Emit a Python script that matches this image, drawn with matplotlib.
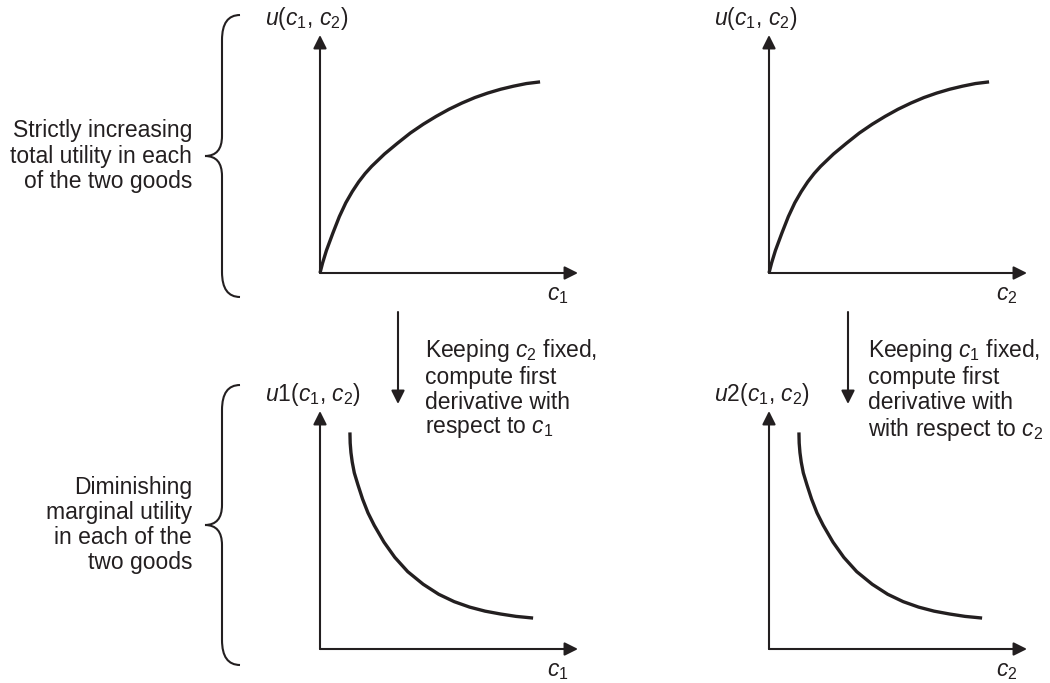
import numpy as np
import matplotlib
matplotlib.use("Agg")
from matplotlib import pyplot as plt
from matplotlib.path import Path
from matplotlib.patches import PathPatch

plt.rcParams['font.family'] = ['Liberation Sans', 'DejaVu Sans']
plt.rcParams['mathtext.fontset'] = 'custom'
plt.rcParams['mathtext.rm'] = 'Liberation Sans'
plt.rcParams['mathtext.it'] = 'Liberation Sans:italic'

INK = '#231f20'

# total utility curve (panel units 0..10)
total_c = [0, 0.1, 0.25, 0.5, 0.75, 1.0, 1.25, 1.5, 1.75, 2.0, 2.5, 3.0, 3.5,
           4.0, 4.5, 5.0, 5.5, 6.0, 6.5, 7.0, 7.5, 8.0, 8.53]
total_u = [0, 0.42, 0.95, 1.68, 2.37, 2.95, 3.42, 3.83, 4.18, 4.48, 5.0, 5.45, 5.88,
           6.25, 6.58, 6.88, 7.14, 7.37, 7.56, 7.72, 7.85, 7.96, 8.03]

# marginal utility curve
marg_c = [1.16, 1.17, 1.2, 1.25, 1.33, 1.47, 1.65, 1.86, 2.1, 2.48, 2.9, 3.4,
          4.0, 4.6, 5.2, 5.8, 6.4, 7.0, 7.6, 8.26]
marg_u = [9.1, 8.65, 8.25, 7.85, 7.4, 6.9, 6.3, 5.72, 5.2, 4.49, 3.85, 3.25,
          2.72, 2.3, 1.99, 1.76, 1.59, 1.47, 1.37, 1.30]

y_labels = [r'$u(c_1$, $c_2)$', r'$u(c_1$, $c_2)$', r'$u$1$(c_1$, $c_2)$', r'$u$2$(c_1$, $c_2)$']
x_labels = [r'$c_1$', r'$c_2$', r'$c_1$', r'$c_2$']
side_notes = ['Strictly increasing\ntotal utility in each\nof the two goods',
              'Diminishing\nmarginal utility\nin each of the\ntwo goods']
step_notes = ['Keeping $c_2$ fixed,\ncompute first\nderivative with\nrespect to $c_1$',
              'Keeping $c_1$ fixed,\ncompute first\nderivative with\nwith respect to $c_2$']

W, H = 1050, 683
FS = 16.5
fig = plt.figure(figsize=(W / 100, H / 100), dpi=100)

# overlay in pixel coords for braces, arrows and notes
ov = fig.add_axes([0, 0, 1, 1])
ov.set_xlim(0, W)
ov.set_ylim(H, 0)
ov.axis('off')

# (origin x, origin y) of each panel in pixels
origins = [(320, 273), (769, 273), (320, 649), (769, 649)]
pw, ph = 258, 238

for i, (ox, oy) in enumerate(origins):
    ax = fig.add_axes([ox / W, (H - oy) / H, pw / W, ph / H])
    ax.set_xlim(0, 10)
    ax.set_ylim(0, 10)
    ax.axis('off')
    for end in [(10, 0), (0, 10)]:
        ax.annotate('', xy=end, xytext=(0, 0), annotation_clip=False,
                    arrowprops=dict(arrowstyle='-|>', color=INK, lw=1.5,
                                    mutation_scale=20, shrinkA=0, shrinkB=0))
    if i < 2:
        cx, cy = total_c, total_u
    else:
        cx, cy = marg_c, marg_u
    ax.plot(cx, cy, color=INK, lw=2.4, solid_capstyle='butt',
            solid_joinstyle='round', clip_on=False)
    ov.text(ox - 55, oy - 254, y_labels[i], fontsize=FS, color=INK, ha='left', va='center')
    ov.text(ox + 238, oy + 22, x_labels[i], fontsize=FS, color=INK, ha='center', va='center')


def brace(y_top, y_bot, x_tip=205, x_mid=222, x_end=240):
    ym = (y_top + y_bot) / 2
    verts = [(x_end, y_top), (x_mid, y_top), (x_mid, y_top + 25),
             (x_mid, ym - 20), (x_mid, ym), (x_tip, ym),
             (x_mid, ym), (x_mid, ym + 20),
             (x_mid, y_bot - 25), (x_mid, y_bot), (x_end, y_bot)]
    codes = [Path.MOVETO, Path.CURVE3, Path.CURVE3,
             Path.LINETO, Path.CURVE3, Path.CURVE3,
             Path.CURVE3, Path.CURVE3,
             Path.LINETO, Path.CURVE3, Path.CURVE3]
    ov.add_patch(PathPatch(Path(verts, codes), fill=False, ec=INK, lw=1.5))
    return ym


for (yt, yb), note in zip([(15, 297), (385, 665)], side_notes):
    ym = brace(yt, yb)
    ov.text(192, ym, note, fontsize=FS, color=INK, ha='right', va='center',
            multialignment='right', linespacing=1.12)

for ax_x, tx, note in zip([398, 848], [425, 868], step_notes):
    ov.annotate('', xy=(ax_x, 404), xytext=(ax_x, 312),
                arrowprops=dict(arrowstyle='-|>', color=INK, lw=1.5,
                                mutation_scale=20, shrinkA=0, shrinkB=0))
    ov.text(tx, 337, note, fontsize=FS, color=INK, ha='left', va='top', linespacing=1.1)

fig.savefig('out.png', dpi=100)
